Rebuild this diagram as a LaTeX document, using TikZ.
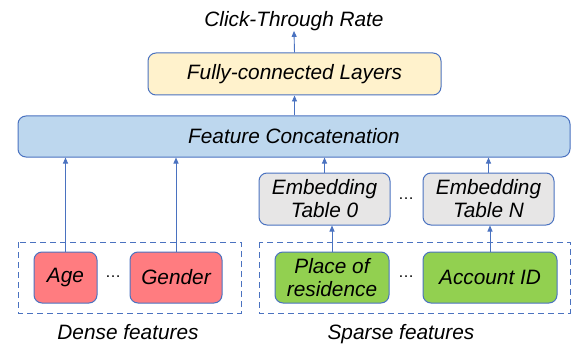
\documentclass[tikz,border=0pt]{standalone}
\usepackage{fontspec}
\setmainfont{Liberation Sans}
\usetikzlibrary{arrows.meta}
\definecolor{edgeblue}{HTML}{4A72C0}
\definecolor{concatfill}{HTML}{BDD7EE}
\definecolor{fcfill}{HTML}{FFF2CC}
\definecolor{embfill}{HTML}{E7E6E6}
\definecolor{densefill}{HTML}{FF7C80}
\definecolor{sparsefill}{HTML}{92D050}
\tikzset{
  txt/.style={font=\fontsize{20.8}{23}\selectfont\itshape, text=black, inner sep=0pt, align=center},
  block/.style={txt, draw=edgeblue, line width=1pt, rounded corners=8pt},
  group/.style={draw=edgeblue, line width=1pt, dash pattern=on 6pt off 4pt},
  link/.style={draw=edgeblue, line width=0.9pt, -{Triangle[length=6pt,width=5pt]}},
  dotsnode/.style={font=\fontsize{16}{18}\selectfont, inner sep=0pt}
}
\begin{document}
\begin{tikzpicture}[x=1pt,y=-1pt]
  \useasboundingbox (0,0) rectangle (571,345);

  % output and upper layers
  \node[txt] (ctr) at (294,21) {Click-Through Rate};
  \node[block, fill=fcfill, minimum width=293pt, minimum height=42pt] (fc) at (294.5,74) {Fully-connected Layers};
  \node[block, fill=concatfill, minimum width=552pt, minimum height=41pt] (concat) at (294,136.5) {Feature Concatenation};

  % embedding tables
  \node[block, fill=embfill, minimum width=131pt, minimum height=52pt] (emb0) at (324.5,199) {Embedding\\Table 0};
  \node[block, fill=embfill, minimum width=131pt, minimum height=52pt] (embN) at (488.5,199) {Embedding\\Table N};
  \node[dotsnode] (edots) at (406,199) {\ldots};

  % feature groups
  \draw[group] (18,242) rectangle (241,313);
  \draw[group] (259,242) rectangle (570,313);

  \node[block, fill=densefill, minimum width=63pt, minimum height=51pt] (age) at (65.5,277.5) {Age};
  \node[block, fill=densefill, minimum width=92pt, minimum height=51pt] (gender) at (176,277.5) {Gender};
  \node[dotsnode] (ddots) at (113,277) {\ldots};

  \node[block, fill=sparsefill, minimum width=114pt, minimum height=51pt] (place) at (332,277.5) {Place of\\residence};
  \node[block, fill=sparsefill, minimum width=134pt, minimum height=51pt] (account) at (490,277.5) {Account ID};
  \node[dotsnode] (sdots) at (406,277) {\ldots};

  \node[txt, anchor=base] (dense) at (128,339) {Dense features};
  \node[txt, anchor=base] (sparse) at (401,339) {Sparse features};

  % connectors
  \draw[link] (fc.north) -- (ctr.south);
  \draw[link] (concat.north -| fc.south) -- (fc.south);
  \draw[link] (age.north) -- (age.north |- concat.south);
  \draw[link] (gender.north) -- (gender.north |- concat.south);
  \draw[link] (emb0.north) -- (emb0.north |- concat.south);
  \draw[link] (embN.north) -- (embN.north |- concat.south);
  \draw[link] (place.north) -- (place.north |- emb0.south);
  \draw[link] (account.north) -- (account.north |- embN.south);
\end{tikzpicture}
\end{document}
